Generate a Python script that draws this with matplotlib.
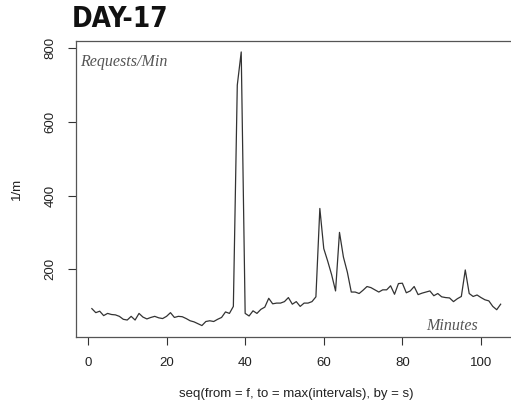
import numpy as np
import matplotlib
matplotlib.use("Agg")
from matplotlib import pyplot as plt

# requests per minute, minute 1..105
minutes = np.arange(1, 106)
requests = [
    93, 82, 86, 74, 80, 77, 76, 72, 64, 62,
    72, 62, 80, 70, 65, 69, 72, 68, 66, 72,
    82, 69, 72, 71, 66, 60, 57, 52, 47, 58,
    60, 58, 64, 69, 84, 80, 99, 700, 790, 80,
    73, 87, 80, 91, 97, 121, 106, 108, 108, 112,
    123, 105, 112, 99, 108, 108, 112, 125, 365, 256,
    222, 185, 141, 300, 233, 192, 138, 138, 134, 143,
    153, 150, 144, 138, 144, 144, 155, 132, 161, 162,
    136, 141, 153, 131, 135, 138, 141, 128, 134, 125,
    123, 122, 112, 120, 126, 198, 134, 126, 130, 123,
    117, 114, 99, 90, 105,
]
x_ticks = [0, 20, 40, 60, 80, 100]
y_ticks = [200, 400, 600, 800]

plt.rcParams['font.family'] = ['Liberation Sans', 'DejaVu Sans']

fig = plt.figure(figsize=(5.11, 4.09), dpi=100)
ax = fig.add_axes([75.5/511, 1-336.5/409, (517-75.5)/511, (336.5-41)/409])

ax.plot(minutes, requests, color="#333333", lw=0.9)

# R-style 4% padding on both axes
xr = minutes.max() - minutes.min()
ax.set_xlim(minutes.min() - 0.04*xr, minutes.max() + 0.04*xr)
yr = max(requests) - min(requests)
ax.set_ylim(min(requests) - 0.04*yr, max(requests) + 0.04*yr)

ax.set_xticks(x_ticks)
ax.set_yticks(y_ticks)
ax.tick_params(axis="both", direction="out", length=5.5, width=0.8,
               color="#333333", labelsize=9.5, labelcolor="#222222")
ax.tick_params(axis="x", pad=9)
ax.tick_params(axis="y", pad=8)
for lab in ax.get_yticklabels():
    lab.set_rotation(90)
    lab.set_va("center")

for s in ax.spines.values():
    s.set_color("#555555")
    s.set_linewidth(0.9)
ax.spines["right"].set_visible(False)  # falls outside the crop anyway

ax.set_xlabel("seq(from = f, to = max(intervals), by = s)", fontsize=9.5,
              color="#222222", labelpad=14)
ax.set_ylabel("1/m", fontsize=9.5, color="#222222", labelpad=16)

ax.text(80/511, 1-62/409, "Requests/Min", transform=fig.transFigure,
        fontsize=11.5, style="italic", family="Liberation Serif",
        color="#555555", va="center", ha="left")
ax.text(478/511, 1-326/409, "Minutes", transform=fig.transFigure,
        fontsize=11.5, style="italic", family="Liberation Serif",
        color="#555555", va="center", ha="right")

fig.text(72/511, 1-19/409, "DAY-17", fontsize=20, fontweight="bold",
         fontstretch="condensed", family="DejaVu Sans", color="#111111",
         va="center", ha="left")

fig.savefig("out.png", dpi=100)
